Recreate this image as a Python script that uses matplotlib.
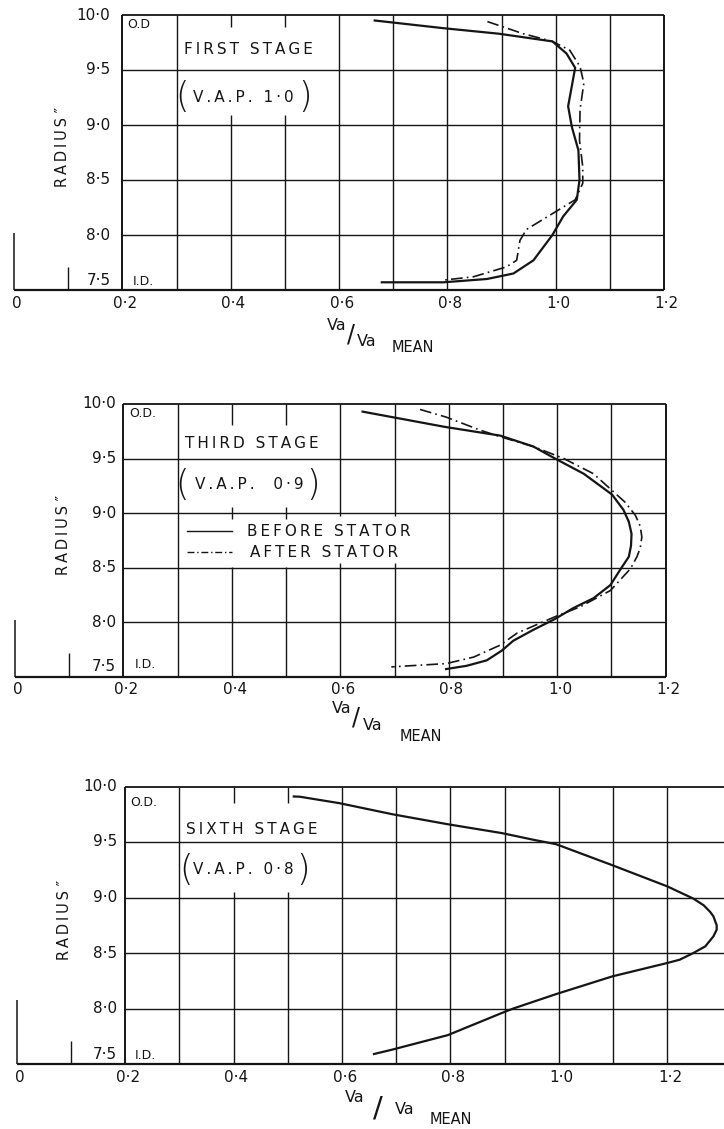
import matplotlib.pyplot as plt

# valores (Va/Va mean x raio em polegadas)
# primeiro estagio
r1_before = [9.95, 9.88, 9.83, 9.76, 9.65, 9.52, 9.17, 8.98, 8.77, 8.50, 8.32, 8.17, 8.00, 7.77, 7.65, 7.60, 7.57, 7.57]
v1_before = [0.666, 0.793, 0.895, 0.994, 1.020, 1.036, 1.023, 1.030, 1.042, 1.044, 1.039, 1.014, 0.994, 0.959, 0.922, 0.873, 0.793, 0.679]
r1_after = [9.94, 9.83, 9.76, 9.68, 9.53, 9.38, 9.14, 8.86, 8.62, 8.47, 8.32, 8.20, 8.05, 7.95, 7.77, 7.71, 7.62, 7.59]
v1_after = [0.874, 0.940, 0.994, 1.026, 1.045, 1.052, 1.045, 1.044, 1.050, 1.050, 1.036, 0.996, 0.946, 0.934, 0.928, 0.909, 0.848, 0.793]

# terceiro estagio
r3_before = [9.93, 9.79, 9.71, 9.61, 9.50, 9.36, 9.17, 9.03, 8.92, 8.81, 8.70, 8.60, 8.48, 8.34, 8.22, 8.13, 8.03, 7.93, 7.83, 7.74, 7.65, 7.60, 7.57]
v3_before = [0.641, 0.793, 0.895, 0.956, 0.996, 1.049, 1.101, 1.122, 1.132, 1.137, 1.136, 1.132, 1.116, 1.098, 1.067, 1.030, 0.996, 0.956, 0.919, 0.898, 0.870, 0.833, 0.795]
r3_after = [9.95, 9.88, 9.76, 9.70, 9.61, 9.50, 9.36, 9.10, 8.98, 8.88, 8.78, 8.68, 8.60, 8.49, 8.29, 8.14, 8.05, 7.90, 7.79, 7.68, 7.62, 7.59]
v3_after = [0.747, 0.795, 0.858, 0.895, 0.956, 1.012, 1.067, 1.125, 1.144, 1.153, 1.156, 1.153, 1.147, 1.135, 1.098, 1.042, 0.996, 0.926, 0.895, 0.846, 0.795, 0.694]

# sexto estagio
r6 = [9.91, 9.908, 9.85, 9.75, 9.66, 9.58, 9.52, 9.48, 9.29, 9.10, 8.99, 8.93, 8.87, 8.83, 8.75, 8.71, 8.65, 8.56, 8.50, 8.44, 8.41, 8.29, 8.13, 8.00, 7.96, 7.76, 7.63, 7.59]
v6 = [0.511, 0.522, 0.595, 0.693, 0.795, 0.895, 0.953, 0.995, 1.099, 1.200, 1.248, 1.267, 1.279, 1.285, 1.291, 1.291, 1.285, 1.270, 1.248, 1.223, 1.200, 1.099, 0.995, 0.916, 0.895, 0.795, 0.693, 0.659]

x_ticks = [0, 0.2, 0.4, 0.6, 0.8, 1.0, 1.2]
x_tick_labels = ['0', '0·2', '0·4', '0·6', '0·8', '1·0', '1·2']
y_ticks = [10.0, 9.5, 9.0, 8.5, 8.0]
y_tick_labels = ['10·0', '9·5', '9·0', '8·5', '8·0']

INK = '#151515'
W, H = 724, 1129
fig = plt.figure(figsize=(W / 100, H / 100), dpi=100)
plt.rcParams['font.family'] = ['DejaVu Sans']


def spaced(s):
    # letras espaçadas como no letreiro técnico
    return '\u2009'.join(s)


def add_axes_px(left, right, top, bottom):
    return fig.add_axes([left / W, 1 - bottom / H, (right - left) / W, (bottom - top) / H])


def draw_frame(ax, xmax, line_end, gaps, stub0, stub1, ylab_x):
    ax.set_xlim(0, xmax)
    ax.set_ylim(7.5, 10.0)
    ax.axis('off')
    kw = dict(color=INK, clip_on=False)
    # linhas horizontais da grade
    ax.hlines([8.0, 8.5, 9.0, 9.5], 0.2, line_end, lw=1.0, **kw)
    ax.hlines(10.0, 0.2, line_end, lw=1.3, **kw)
    ax.hlines(7.5, 0.0, line_end, lw=1.6, **kw)
    # linhas verticais (algumas interrompidas pelo texto)
    for i in range(11):
        x = round(0.2 + 0.1 * i, 2)
        lw = 1.4 if x == 0.2 or (x == 1.2 and line_end == 1.2) else 1.0
        if x in gaps:
            for y0, y1 in gaps[x]:
                ax.vlines(x, y0, y1, lw=lw, **kw)
        else:
            ax.vlines(x, 7.5, 10.0, lw=lw, **kw)
    ax.vlines(0.0, 7.5, stub0, lw=1.1, **kw)
    ax.vlines(0.1, 7.5, stub1, lw=1.0, **kw)
    # rotulos dos eixos
    for y, lab in zip(y_ticks, y_tick_labels):
        ax.text(ylab_x, y, lab, ha='right', va='center', fontsize=11, color=INK)
    ax.text(ylab_x, 7.59, '7·5', ha='right', va='center', fontsize=11, color=INK)
    for x, lab in zip(x_ticks, x_tick_labels):
        ax.text(x + 0.005, 7.38, lab, ha='center', va='center', fontsize=11, color=INK)
    ax.text(0.089, 8.8, spaced('RADIUS') + ' ″', rotation=90, ha='center', va='center',
            fontsize=10.5, color=INK)


def draw_labels(ax, od, od_y, stage, stage_y, vap, vap_y, paren_x, id_x, id_y, xl):
    ax.text(0.21, od_y, od, ha='left', va='center', fontsize=9, color=INK)
    ax.text(id_x, id_y, 'I.D.', ha='left', va='center', fontsize=9, color=INK)
    ax.text(0.313, stage_y, spaced(stage), ha='left', va='center', fontsize=11, color=INK)
    ax.text(paren_x[0], vap_y, '(', ha='left', va='center', fontsize=25, color=INK, fontweight='light')
    ax.text(paren_x[1], vap_y, spaced(vap), ha='left', va='center', fontsize=11, color=INK)
    ax.text(paren_x[2], vap_y, ')', ha='left', va='center', fontsize=25, color=INK, fontweight='light')
    # Va / Va MEAN
    (x1, y1), (xs, ys, fs), (x2, y2), (x3, y3) = xl
    ax.text(x1, y1, 'Va', ha='center', va='center', fontsize=11.5, color=INK)
    ax.text(xs, ys, '/', ha='center', va='center', fontsize=fs, color=INK)
    ax.text(x2, y2, 'Va', ha='center', va='center', fontsize=11.5, color=INK)
    ax.text(x3, y3, 'MEAN', ha='center', va='center', fontsize=10.5, color=INK)


dashdot = (0, (7, 2.5, 1, 2.5))

# painel 1 - primeiro estagio
ax1 = add_axes_px(14, 664, 15, 290)
draw_frame(ax1, 1.2, 1.2, {0.4: [(9.89, 10.0), (7.5, 9.09)], 0.5: [(9.89, 10.0), (7.5, 9.09)]},
           8.02, 7.71, 0.178)
ax1.plot(v1_before, r1_before, color=INK, lw=1.6)
ax1.plot(v1_after, r1_after, color=INK, lw=1.2, linestyle=dashdot)
draw_labels(ax1, 'O.D', 9.91, 'FIRST STAGE', 9.69, 'V.A.P. 1·0', 9.25,
            (0.298, 0.330, 0.525), 0.22, 7.58,
            ((0.596, 7.18), (0.622, 7.10, 17), (0.652, 7.03), (0.737, 6.98)))

# painel 2 - terceiro estagio
ax2 = add_axes_px(15, 665.7, 404, 676.7)
gaps2 = {0.4: [(9.81, 10.0), (8.95, 9.06), (7.5, 8.51)],
         0.5: [(9.81, 10.0), (8.95, 9.06), (7.5, 8.51)],
         0.6: [(8.97, 10.0), (7.5, 8.54)],
         0.7: [(8.97, 10.0), (7.5, 8.54)]}
draw_frame(ax2, 1.2, 1.2, gaps2, 8.02, 7.72, 0.186)
ax2.plot(v3_before, r3_before, color=INK, lw=1.6)
ax2.plot(v3_after, r3_after, color=INK, lw=1.2, linestyle=dashdot)
draw_labels(ax2, 'O.D.', 9.91, 'THIRD STAGE', 9.64, 'V.A.P.  0·9', 9.26,
            (0.296, 0.332, 0.537), 0.221, 7.61,
            ((0.603, 7.21), (0.628, 7.13, 17), (0.659, 7.05), (0.748, 6.95)))
# legenda
ax2.plot([0.317, 0.40], [8.835, 8.835], color=INK, lw=1.0)
ax2.plot([0.317, 0.40], [8.64, 8.64], color=INK, lw=1.0, linestyle=(0, (5, 2, 1, 2)))
ax2.text(0.428, 8.835, spaced('BEFORE STATOR'), ha='left', va='center', fontsize=11, color=INK)
ax2.text(0.433, 8.64, spaced('AFTER STATOR'), ha='left', va='center', fontsize=11, color=INK)

# painel 3 - sexto estagio (cortado na borda direita)
x3max = (724 - 16.7) / 542.2
ax3 = add_axes_px(16.7, 724, 786.5, 1064)
draw_frame(ax3, x3max, x3max, {0.4: [(9.85, 10.0), (7.5, 9.05)], 0.5: [(9.85, 10.0), (7.5, 9.05)]},
           8.08, 7.71, 0.185)
ax3.plot(v6, r6, color=INK, lw=1.6)
draw_labels(ax3, 'O.D.', 9.86, 'SIXTH STAGE', 9.61, 'V.A.P. 0·8', 9.25,
            (0.300, 0.326, 0.515), 0.218, 7.58,
            ((0.624, 7.20), (0.667, 7.10, 21), (0.715, 7.09), (0.80, 7.00)))

fig.savefig('out.png', dpi=100, facecolor='white')
